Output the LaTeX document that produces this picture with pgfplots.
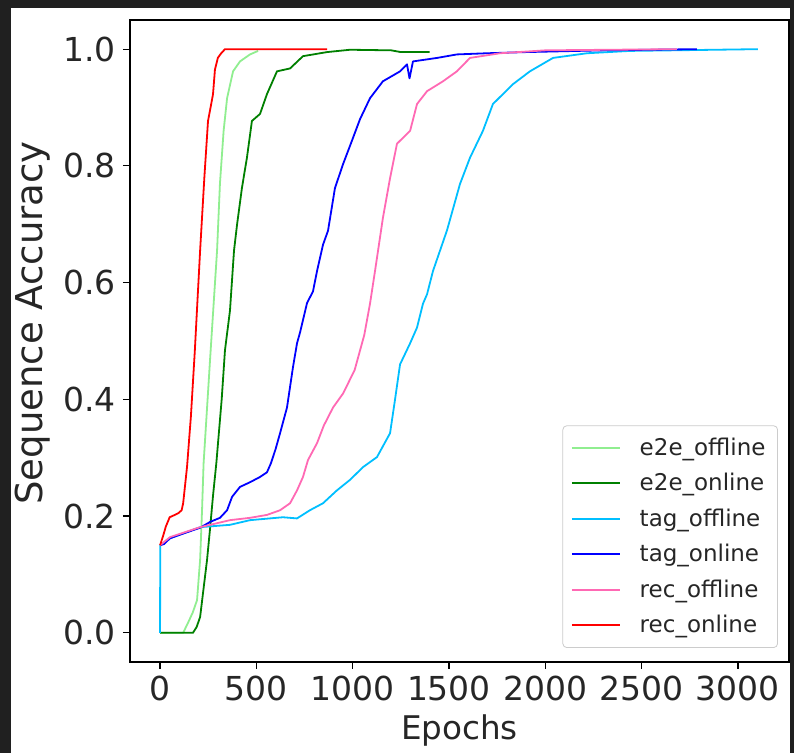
\documentclass[border=0pt]{standalone}
\usepackage{fontspec}
\setmainfont{DejaVu Sans}
\usepackage{pgfplots}
\pgfplotsset{compat=1.18}
\definecolor{bgdark}{HTML}{202020}
\definecolor{clightgreen}{HTML}{90EE90}
\definecolor{cgreen}{HTML}{008000}
\definecolor{cskyblue}{HTML}{00BFFF}
\definecolor{cblue}{HTML}{0000FF}
\definecolor{cpink}{HTML}{FF69B4}
\definecolor{cred}{HTML}{FF0000}
\begin{document}
\begin{tikzpicture}
\useasboundingbox (0,0) rectangle (397pt,376.5pt);
\fill[bgdark] (0,0) rectangle (397pt,376.5pt);
\fill[white] (5.5pt,0) rectangle (395pt,372.5pt);
\begin{axis}[
  at={(65pt,45.5pt)}, anchor=south west,
  scale only axis, width=329.5pt, height=321pt,
  xmin=-156, xmax=3265, ymin=-0.05, ymax=1.05,
  xtick={0,500,1000,1500,2000,2500,3000},
  ytick={0,0.2,0.4,0.6,0.8,1},
  xtick pos=bottom, ytick pos=left,
  scaled ticks=false,
  /pgf/number format/1000 sep={},
  /pgf/number format/assume math mode=true,
  yticklabel style={/pgf/number format/fixed,/pgf/number format/fixed zerofill,/pgf/number format/precision=1},
  tick align=outside, major tick length=3.5pt,
  tick style={black, line width=0.6pt},
  axis line style={line width=0.8pt},
  ticklabel style={font=\fontsize{16.5}{19}\selectfont, text=black!85},
  xlabel={Epochs}, ylabel={Sequence Accuracy},
  xlabel style={font=\fontsize{16.3}{19}\selectfont, text=black!85},
  ylabel style={font=\fontsize{18.5}{21}\selectfont, text=black!85, xshift=9pt},
  legend style={at={(1,0)}, anchor=south east, xshift=-5.5pt, yshift=7pt,
    draw=black!20, rounded corners=2pt, inner sep=4pt,
    font=\fontsize{11.5}{13}\selectfont, text=black!85, row sep=3.5pt},
  legend cell align=left,
  legend image code/.code={\draw[#1, line width=1pt] (0pt,0pt) -- (24pt,0pt); \path (31.5pt,0pt);},
  every axis plot/.append style={line width=0.9pt, line join=round},
]
\addplot[clightgreen] coordinates {(0,0)(120,0)(145,0.017)(170,0.035)(192,0.056)(208,0.125)(218,0.21)(226,0.29)(260,0.47)(296,0.655)(311,0.77)(330,0.86)(348,0.916)(379,0.962)(415,0.979)(467,0.991)(509,0.997)};
\addlegendentry{e2e\_offline}
\addplot[cgreen] coordinates {(0,0)(171,0)(190,0.01)(208,0.027)(223,0.068)(244,0.125)(260,0.18)(275,0.235)(292,0.29)(320,0.40)(337,0.484)(363,0.552)(384,0.655)(400,0.70)(425,0.762)(451,0.814)(477,0.877)(519,0.889)(555,0.923)(607,0.962)(675,0.967)(742,0.988)(867,0.995)(986,0.999)(1200,0.998)(1250,0.995)(1400,0.995)};
\addlegendentry{e2e\_online}
\addplot[cskyblue] coordinates {(0,0)(1,0.15)(52,0.162)(208,0.181)(363,0.185)(467,0.193)(638,0.198)(711,0.196)(778,0.21)(846,0.222)(918,0.244)(986,0.262)(1054,0.284)(1126,0.301)(1194,0.342)(1220,0.40)(1246,0.46)(1298,0.496)(1334,0.523)(1365,0.564)(1386,0.58)(1417,0.62)(1490,0.69)(1557,0.769)(1609,0.814)(1676,0.86)(1728,0.906)(1832,0.94)(1920,0.962)(2040,0.985)(2216,0.993)(2439,0.997)(3104,1.0)};
\addlegendentry{tag\_offline}
\addplot[cblue] coordinates {(0,0.15)(20,0.152)(52,0.162)(120,0.17)(208,0.18)(260,0.19)(311,0.197)(348,0.21)(374,0.233)(415,0.25)(467,0.258)(519,0.267)(555,0.275)(575,0.29)(600,0.315)(623,0.342)(659,0.386)(690,0.455)(711,0.496)(727,0.515)(763,0.565)(794,0.585)(815,0.62)(846,0.665)(872,0.689)(908,0.762)(950,0.803)(996,0.843)(1038,0.88)(1090,0.916)(1157,0.945)(1246,0.962)(1282,0.974)(1295,0.95)(1313,0.979)(1438,0.985)(1541,0.991)(1697,0.993)(1900,0.995)(2300,0.998)(2787,1.0)};
\addlegendentry{tag\_online}
\addplot[cpink] coordinates {(0,0.15)(52,0.164)(208,0.181)(363,0.193)(467,0.197)(555,0.202)(623,0.21)(675,0.222)(711,0.244)(742,0.267)(768,0.296)(815,0.325)(850,0.355)(898,0.386)(950,0.41)(1010,0.45)(1060,0.51)(1090,0.564)(1116,0.62)(1157,0.711)(1194,0.779)(1230,0.838)(1298,0.86)(1334,0.906)(1386,0.928)(1469,0.945)(1541,0.962)(1609,0.985)(1765,0.993)(2000,0.998)(2683,1.0)};
\addlegendentry{rec\_offline}
\addplot[cred] coordinates {(0,0.15)(15,0.165)(30,0.182)(50,0.198)(70,0.201)(95,0.205)(112,0.21)(120,0.222)(140,0.284)(160,0.37)(180,0.48)(208,0.655)(230,0.78)(249,0.877)(265,0.905)(275,0.923)(285,0.965)(300,0.985)(315,0.992)(337,1.0)(867,1.0)};
\addlegendentry{rec\_online}
\end{axis}
\end{tikzpicture}
\end{document}
